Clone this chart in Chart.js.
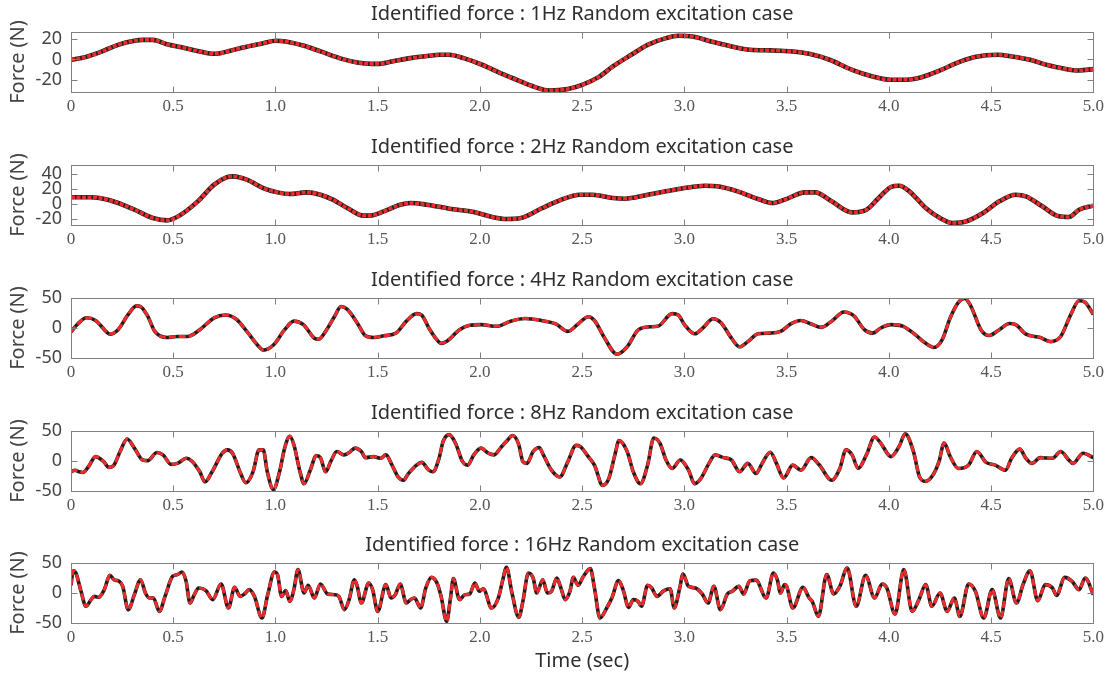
<!DOCTYPE html>
<html>
<head>
<meta charset="utf-8">
<script src="https://cdn.jsdelivr.net/npm/chart.js@4.4.1/dist/chart.umd.min.js"></script>
<style>
  html, body { margin: 0; padding: 0; background: #ffffff; width: 1108px; height: 679px; overflow: hidden; }
  canvas { position: absolute; left: 0; }
</style>
</head>
<body>
<canvas id="p1"></canvas>
<canvas id="p2"></canvas>
<canvas id="p3"></canvas>
<canvas id="p4"></canvas>
<canvas id="p5"></canvas>
<script>
// ---- data: time (sec) and force (N) for each excitation case ----
const time1 = [0,0.07,0.14,0.23,0.31,0.35,0.40,0.47,0.56,0.63,0.70,0.73,0.84,0.94,1.00,1.05,1.14,1.22,1.33,1.40,1.47,1.50,1.57,1.66,1.75,1.80,1.85,1.92,2.01,2.10,2.18,2.27,2.34,2.43,2.50,2.58,2.65,2.74,2.82,2.91,2.97,3.04,3.13,3.23,3.32,3.43,3.53,3.61,3.71,3.82,3.92,4.01,4.07,4.16,4.25,4.33,4.42,4.53,4.60,4.69,4.77,4.86,4.93,5.0];
const force1 = [-0.3,2.3,6.9,14.4,18.4,19.3,19.3,15,11.1,7.9,5.6,6.2,11.8,16,18.4,17.7,13.4,7.9,0.3,-3,-4.3,-4.3,-2,1.3,3.6,4.6,4.6,1.3,-5.2,-13.4,-20,-27.2,-30.5,-29,-25,-17.4,-6.9,4.6,14.4,21,23.3,22.6,17.7,12.8,9.5,8.9,7.9,5.6,-0.3,-10.2,-16.7,-20,-20,-17.4,-10.8,-3.6,2.3,4.6,3,-0.3,-5.2,-9.2,-10.8,-9.5];

const time2 = [0,0.094,0.19,0.31,0.40,0.47,0.53,0.62,0.70,0.76,0.795,0.86,0.94,1.01,1.07,1.15,1.22,1.28,1.36,1.43,1.46,1.53,1.61,1.66,1.74,1.85,1.97,2.06,2.13,2.20,2.30,2.39,2.49,2.55,2.65,2.71,2.81,2.91,3.00,3.10,3.16,3.26,3.36,3.43,3.49,3.59,3.64,3.72,3.82,3.89,3.95,4.01,4.05,4.10,4.18,4.25,4.31,4.38,4.46,4.54,4.62,4.67,4.75,4.83,4.88,4.93,5.0];
const force2 = [8.9,9,5,-7.5,-18.7,-21.8,-15.5,3.5,25.8,35.5,36.9,32.4,21.3,15.5,13.3,15.5,12.4,5.8,-6.7,-15.5,-15.5,-9.8,-0.9,1.3,-0.9,-6.2,-10.7,-17.3,-20,-18.7,-6,4.9,12.4,12.4,8,7.1,11.6,16.9,21.3,24.4,23.6,16.9,6.7,1.3,5.8,15.5,15.5,3.6,-11.1,-7.6,8,22.7,24.4,16.9,-5.3,-18.7,-25.3,-23,-12,3.6,12.4,10.2,-3.1,-16.4,-17.3,-7.6,-2.2];

const time3 = [0,0.03,0.076,0.12,0.18,0.19,0.23,0.28,0.32,0.34,0.375,0.41,0.47,0.52,0.57,0.63,0.70,0.755,0.81,0.86,0.92,0.94,0.99,1.045,1.09,1.136,1.19,1.21,1.245,1.29,1.32,1.35,1.40,1.44,1.48,1.53,1.59,1.64,1.69,1.715,1.75,1.79,1.81,1.84,1.90,1.95,2.005,2.08,2.15,2.22,2.30,2.37,2.43,2.48,2.53,2.56,2.61,2.67,2.72,2.77,2.82,2.87,2.94,2.97,3.0,3.05,3.09,3.14,3.18,3.23,3.27,3.31,3.36,3.42,3.47,3.52,3.57,3.62,3.67,3.72,3.78,3.83,3.88,3.92,3.96,4.01,4.07,4.13,4.18,4.22,4.26,4.30,4.34,4.37,4.40,4.45,4.49,4.54,4.59,4.62,4.67,4.74,4.79,4.84,4.89,4.93,4.96,5.0];
const force3 = [-6.8,5.7,17,12.5,-8.5,-10.2,-2.8,22.7,36.9,35.8,19.9,-5.7,-15.9,-14.2,-14.2,-2.8,17,21.6,14.2,-5.7,-31.3,-36.9,-28.4,-2.8,11.4,5.7,-17,-18.8,-5.7,19.9,35.8,31.3,8.5,-13,-15.9,-13,-8.5,11.4,23.9,21.6,0,-19.9,-25.6,-21.6,-2.8,4.5,5.7,2.8,11.4,15.9,12.5,6.8,-5.7,6.8,18.8,12.5,-17,-43.8,-31.3,-4.5,1.7,2.8,23.9,21.6,5.7,-9.7,0,15.3,8.5,-17,-31.3,-22.7,-9.7,-8.5,-5.7,6.8,12.5,6.8,1.1,11.4,26.7,19.9,-2.8,-8.5,0,5.7,2.8,-11.4,-25.6,-32.4,-19.9,17,42.6,49.4,36.9,-2.8,-12.5,-2.8,7.4,5.7,-10.2,-15.9,-22.7,-14.2,22.7,45.5,42.6,22.7];

const time4 = [0,0.02,0.04,0.058,0.085,0.12,0.16,0.185,0.21,0.24,0.275,0.31,0.35,0.375,0.42,0.45,0.49,0.52,0.565,0.59,0.63,0.655,0.69,0.74,0.765,0.79,0.83,0.855,0.89,0.92,0.94,0.96,0.99,1.02,1.045,1.07,1.09,1.12,1.14,1.17,1.20,1.22,1.245,1.27,1.30,1.335,1.36,1.39,1.42,1.44,1.48,1.515,1.54,1.57,1.60,1.625,1.65,1.69,1.715,1.75,1.77,1.80,1.82,1.85,1.88,1.915,1.94,1.97,2.005,2.04,2.07,2.10,2.13,2.16,2.19,2.21,2.23,2.26,2.29,2.31,2.35,2.39,2.43,2.47,2.49,2.53,2.56,2.60,2.63,2.66,2.68,2.72,2.75,2.785,2.82,2.85,2.88,2.91,2.94,2.98,3.02,3.05,3.08,3.12,3.15,3.19,3.23,3.27,3.31,3.35,3.38,3.42,3.45,3.485,3.53,3.57,3.62,3.66,3.72,3.76,3.79,3.82,3.85,3.89,3.93,3.96,4.01,4.05,4.08,4.12,4.15,4.18,4.22,4.245,4.27,4.30,4.34,4.39,4.43,4.475,4.52,4.57,4.60,4.64,4.67,4.70,4.74,4.80,4.84,4.88,4.90,4.95,5.0];
const force4 = [-18,-15.3,-18,-19.2,-9.6,7.3,-1.1,-10.7,-6.8,15.8,36.7,21.5,1.7,0.6,14.1,10.2,-5.6,-4,4.5,0,-18,-34.7,-18,13,18.6,13,-20.9,-36.2,-18,18.6,18.6,-18,-47.5,-18,21.5,41.2,27.1,-18,-37.9,-15.3,9,5.6,-18,-1.1,15.8,10.2,14.1,21.5,15.8,5.6,7.3,4.5,10.2,-6.8,-26.6,-32.2,-20.9,-6.8,-2.3,-15.3,-18,4.5,32.8,44,29.9,-1.1,-6.8,10.2,21.5,13,10.2,21.5,32.8,42.4,27.1,-1.1,-4,15.8,22.6,10.2,-15.3,-26.6,-1.1,26,24.3,7.3,-6.8,-40.7,-29.4,10.2,33.9,15.8,-18,-37.9,-6.8,38.4,29.9,1.7,-12.4,1.7,-15.3,-37.9,-29.4,-4,10.2,5.6,1.7,-18,-4,-20.9,-4,14.7,-4,-28.2,-6.8,-15.3,5.6,-6.8,-32.2,-12.4,18.6,10.2,-12.4,10.2,40.1,29.9,7.3,24.3,45.2,15.8,-26.6,-33.9,-20.9,-1.1,29.9,7.3,-12.4,-6.8,15.8,-2.3,-6.8,-15.3,4.5,19.8,4.5,-4,5.6,4.5,15.8,1.7,-4,13,5.6];

const time5 = [0,0.011,0.024,0.049,0.073,0.098,0.114,0.135,0.163,0.19,0.21,0.236,0.253,0.28,0.31,0.34,0.364,0.383,0.403,0.432,0.46,0.497,0.52,0.543,0.563,0.582,0.603,0.624,0.66,0.693,0.734,0.77,0.80,0.827,0.848,0.872,0.897,0.934,0.962,0.995,1.01,1.03,1.05,1.07,1.09,1.11,1.14,1.16,1.19,1.22,1.255,1.29,1.31,1.337,1.36,1.386,1.40,1.42,1.456,1.475,1.50,1.54,1.565,1.586,1.61,1.64,1.66,1.68,1.71,1.735,1.763,1.79,1.81,1.837,1.856,1.87,1.90,1.926,1.95,1.975,1.997,2.016,2.057,2.09,2.11,2.13,2.155,2.19,2.21,2.237,2.26,2.278,2.307,2.33,2.35,2.376,2.395,2.417,2.44,2.457,2.48,2.506,2.54,2.56,2.587,2.62,2.645,2.678,2.70,2.727,2.75,2.773,2.79,2.82,2.84,2.866,2.90,2.93,2.95,2.977,2.993,3.02,3.054,3.087,3.116,3.144,3.176,3.21,3.234,3.266,3.29,3.32,3.35,3.40,3.435,3.454,3.47,3.49,3.50,3.53,3.58,3.61,3.625,3.655,3.696,3.73,3.76,3.796,3.84,3.886,3.93,3.967,3.99,4.03,4.073,4.114,4.147,4.18,4.21,4.25,4.285,4.32,4.347,4.39,4.423,4.464,4.505,4.546,4.586,4.624,4.657,4.69,4.728,4.765,4.80,4.82,4.86,4.896,4.93,4.96,5.0];
const force5 = [12.8,37.2,33.3,2.8,-22.2,-11.1,-5.6,-7.2,5.6,29.4,22.2,19.4,11.1,-27.8,-2.8,22.2,0,-8.3,-8.3,-30.6,-5.6,27.8,30.6,35,19.4,-16.7,-2.8,8.3,3.9,-11.1,15,-25,9.4,-5.6,-1.7,5.6,-5.6,-41.7,-2.8,35,30.6,-5.6,3.9,-13.9,5.6,38.9,0,12.8,-8.3,15,-1.7,-2.8,-5.6,-27.8,-11.1,22.2,11.1,-16.7,16.7,5.6,-30.6,13.9,-8.3,-2.8,15,-16.7,-11.1,-8.3,-25,8.3,26.1,16.7,-5.6,-47.2,-8.3,23.9,-11.1,-2.8,-1.7,16.7,2.8,7.2,-25,-8.3,19.4,42.8,2.8,-40.6,-13.9,33.3,25,0,22.2,0,2.8,25,9.4,-11.1,2.8,26.1,12.8,27.8,40.6,8.3,-41.7,-25,-8.3,20.6,5.6,-23.9,-11.1,-13.9,-22.2,12.8,8.3,-5.6,3.9,7.2,-25,8.3,31.7,11.1,8.3,-1.7,-16.7,11.1,-27.8,-1.7,2.8,11.1,-1.7,20.6,21.4,-8.3,33.3,22.2,0,13.9,11.1,-25,9.4,-8.3,-13.9,-38.9,30.6,-1.7,11.1,41.7,-22.2,29.4,-8.3,15,8.3,-35,38.9,-30.6,-11.1,13.9,-22.2,0,-30.6,-8.3,-38.9,15,2.8,-41.7,5.6,-41.7,23.9,-16.7,15,37.2,-12.8,13.9,8.3,-3.9,26.1,19.4,5.6,25,-2.8];

// ---- axes: tick values / labels and value ranges ----
const xTickValues = [0, 0.5, 1.0, 1.5, 2.0, 2.5, 3.0, 3.5, 4.0, 4.5, 5.0];
const xTickLabels = ['0', '0.5', '1.0', '1.5', '2.0', '2.5', '3.0', '3.5', '4.0', '4.5', '5.0'];
const yTicks1 = [-20, 0, 20];
const yTicks2 = [-20, 0, 20, 40];
const yTicks3 = [-50, 0, 50];
const yTicks4 = [-50, 0, 50];
const yTicks5 = [-50, 0, 50];
const yRange1 = [-32, 27];
const yRange2 = [-28, 52];
const yRange3 = [-50, 50];
const yRange4 = [-50, 50];
const yRange5 = [-50, 50];
const panelTitles = [
  'Identified force : 1Hz Random excitation case',
  'Identified force : 2Hz Random excitation case',
  'Identified force : 4Hz Random excitation case',
  'Identified force : 8Hz Random excitation case',
  'Identified force : 16Hz Random excitation case'
];
const yTitle = 'Force (N)';
const xTitle = 'Time (sec)';

// ---- layout & style ----
const SANS = "'Noto Sans', 'DejaVu Sans', sans-serif";
const SERIF = "'Liberation Serif', 'DejaVu Serif', serif";
const RED = '#ef2b2b';
const BLACK = '#1e1e1e';
const FRAME = '#808080';
const TEXT = '#2e2e2e';

// draws the axes box and the inward tick marks on all four sides
const framePlugin = {
  id: 'frame',
  afterDatasetsDraw(chart) {
    const { ctx, chartArea: a, scales: { x, y } } = chart;
    const L = Math.round(a.left) + 0.5, R = Math.round(a.right) + 0.5;
    const T = Math.round(a.top) + 0.5, B = Math.round(a.bottom) + 0.5;
    const len = 6;
    ctx.save();
    ctx.strokeStyle = FRAME;
    ctx.lineWidth = 1;
    ctx.strokeRect(L, T, R - L, B - T);
    ctx.beginPath();
    x.ticks.forEach(t => {
      const px = Math.round(x.getPixelForValue(t.value)) + 0.5;
      ctx.moveTo(px, T); ctx.lineTo(px, T + len);
      ctx.moveTo(px, B); ctx.lineTo(px, B - len);
    });
    y.ticks.forEach(t => {
      const py = Math.round(y.getPixelForValue(t.value)) + 0.5;
      ctx.moveTo(L, py); ctx.lineTo(L + len, py);
      ctx.moveTo(R, py); ctx.lineTo(R - len, py);
    });
    ctx.stroke();
    ctx.restore();
  }
};

function toPoints(ts, fs) {
  return ts.map((t, i) => ({ x: t, y: fs[i] }));
}

function makePanel(id, top, times, forces, yTicks, yRange, title, fine, last) {
  const axisH = last ? 52 : 28;
  const h = 32 + 60 + axisH;
  const cv = document.getElementById(id);
  cv.width = 1108; cv.height = h;
  cv.style.top = top + 'px';
  cv.style.width = '1108px'; cv.style.height = h + 'px';
  const pts = toPoints(times, forces);
  return new Chart(cv, {
    type: 'line',
    data: {
      datasets: [
        { label: 'Identified', data: pts, borderColor: RED, borderWidth: fine ? 3 : 3.6,
          borderDash: fine ? [7, 3] : [4, 1.5], pointRadius: 0, cubicInterpolationMode: 'monotone', fill: false },
        { label: 'Actual', data: pts, borderColor: BLACK, borderWidth: fine ? 3.6 : 4.6,
          pointRadius: 0, cubicInterpolationMode: 'monotone', fill: false }
      ]
    },
    options: {
      responsive: false,
      animation: false,
      devicePixelRatio: 1,
      layout: { padding: { left: 0, right: 14, top: 0, bottom: 0 } },
      plugins: {
        legend: { display: false },
        tooltip: { enabled: false },
        title: {
          display: true, text: title, fullSize: false, color: TEXT,
          font: { family: SANS, size: 20, weight: 'normal' },
          padding: { top: 2, bottom: 6 }
        }
      },
      scales: {
        x: {
          type: 'linear', min: 0, max: 5,
          grid: { display: false, drawTicks: false },
          border: { display: false },
          afterBuildTicks: s => { s.ticks = xTickValues.map(v => ({ value: v })); },
          afterFit: s => { s.height = axisH; },
          ticks: {
            autoSkip: false, maxRotation: 0, padding: 4, color: '#555555',
            font: { family: SERIF, size: 17 },
            callback: (v, i) => xTickLabels[i]
          },
          title: {
            display: !!last, text: xTitle, color: TEXT,
            font: { family: SANS, size: 20 }, padding: { top: 0, bottom: 2 }
          }
        },
        y: {
          type: 'linear', min: yRange[0], max: yRange[1],
          grid: { display: false, drawTicks: false },
          border: { display: false },
          afterBuildTicks: s => { s.ticks = yTicks.map(v => ({ value: v })); },
          afterFit: s => { s.width = 71; },
          ticks: {
            autoSkip: false, padding: 9, color: '#444444',
            font: { family: SANS, size: 18 }
          },
          title: {
            display: true, text: yTitle, color: '#444444',
            font: { family: SANS, size: 20 }, padding: { top: 6, bottom: 0 }
          }
        }
      }
    },
    plugins: [framePlugin]
  });
}

function build() {
  makePanel('p1', 0,   time1, force1, yTicks1, yRange1, panelTitles[0], false, false);
  makePanel('p2', 133, time2, force2, yTicks2, yRange2, panelTitles[1], false, false);
  makePanel('p3', 266, time3, force3, yTicks3, yRange3, panelTitles[2], true, false);
  makePanel('p4', 399, time4, force4, yTicks4, yRange4, panelTitles[3], true, false);
  makePanel('p5', 531, time5, force5, yTicks5, yRange5, panelTitles[4], true, true);
}

Promise.all([
  document.fonts.load("20px 'Noto Sans'"),
  document.fonts.load("17px 'Liberation Serif'")
]).then(build, build);
</script>
</body>
</html>
